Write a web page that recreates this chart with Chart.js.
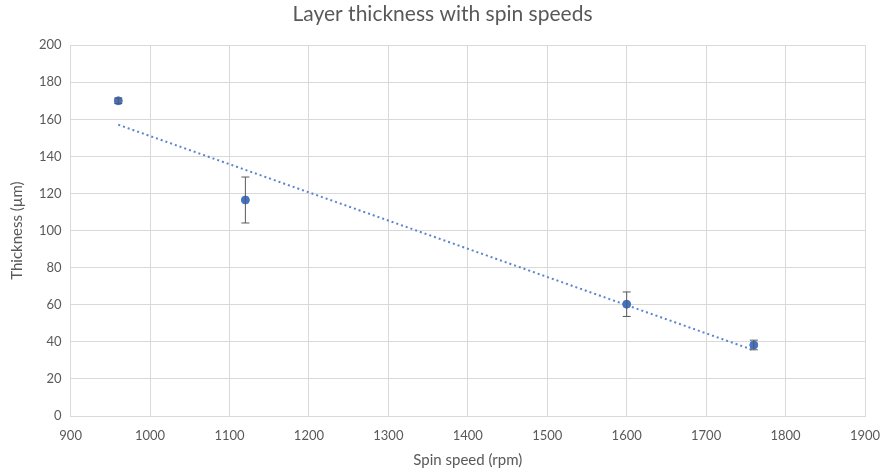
<!DOCTYPE html>
<html>
<head>
<meta charset="utf-8">
<script src="https://cdn.jsdelivr.net/npm/chart.js@4"></script>
<style>
  html, body { margin: 0; padding: 0; background: #fff; }
  #wrap { width: 881px; height: 472px; }
</style>
</head>
<body>
<div id="wrap"><canvas id="chart"></canvas></div>
<script>
// ===== Data =====
const spinSpeeds = [960, 1120, 1600, 1760];
const thickness = [170, 116.5, 60.3, 38.3];
const thicknessErr = [1.5, 12.4, 6.6, 2.6];
const xTicks = [900, 1000, 1100, 1200, 1300, 1400, 1500, 1600, 1700, 1800, 1900];
const yTicks = [0, 20, 40, 60, 80, 100, 120, 140, 160, 180, 200];

const BLUE = "#4472C4";
const TEXT = "#595959";
const FONT = "Lato, 'Open Sans', sans-serif";

// linear trendline (least squares, like Excel)
function linearFit(xs, ys) {
  const n = xs.length;
  const mx = xs.reduce((a, b) => a + b, 0) / n;
  const my = ys.reduce((a, b) => a + b, 0) / n;
  let sxy = 0, sxx = 0;
  xs.forEach((x, i) => { sxy += (x - mx) * (ys[i] - my); sxx += (x - mx) * (x - mx); });
  const slope = sxy / sxx;
  return x => my + slope * (x - mx);
}
const fit = linearFit(spinSpeeds, thickness);
const trendX = [spinSpeeds[0], spinSpeeds[spinSpeeds.length - 1]];

// ===== Error bar plugin =====
const errorBars = {
  id: "errorBars",
  afterDatasetsDraw(chart) {
    const { ctx, scales: { x, y } } = chart;
    ctx.save();
    ctx.strokeStyle = "#595959";
    ctx.lineWidth = 1;
    spinSpeeds.forEach((sx, i) => {
      const px = x.getPixelForValue(sx);
      const top = y.getPixelForValue(thickness[i] + thicknessErr[i]);
      const bot = y.getPixelForValue(thickness[i] - thicknessErr[i]);
      ctx.beginPath();
      ctx.moveTo(px, top); ctx.lineTo(px, bot);
      ctx.moveTo(px - 4, top); ctx.lineTo(px + 4, top);
      ctx.moveTo(px - 4, bot); ctx.lineTo(px + 4, bot);
      ctx.stroke();
    });
    ctx.restore();
  }
};

new Chart(document.getElementById("chart"), {
  type: "scatter",
  data: {
    datasets: [
      {
        label: "Trendline",
        data: trendX.map(v => ({ x: v, y: fit(v) })),
        showLine: true,
        borderColor: "#5b84cc",
        borderWidth: 2,
        borderDash: [2, 3],
        pointRadius: 0,
        order: 2
      },
      {
        label: "Thickness",
        data: spinSpeeds.map((v, i) => ({ x: v, y: thickness[i] })),
        backgroundColor: BLUE,
        borderColor: BLUE,
        pointRadius: 4,
        order: 1
      }
    ]
  },
  options: {
    responsive: true,
    maintainAspectRatio: false,
    animation: false,
    layout: { padding: { left: 4, right: 0, top: 2, bottom: 0 } },
    plugins: {
      legend: { display: false },
      tooltip: { enabled: false },
      title: {
        display: true,
        text: "Layer thickness with spin speeds",
        color: TEXT,
        font: { family: FONT, size: 21, weight: "normal" },
        padding: { top: 0, bottom: 18 }
      }
    },
    scales: {
      x: {
        type: "linear",
        min: 900, max: 1900,
        afterBuildTicks: s => { s.ticks = xTicks.map(v => ({ value: v })); },
        afterFit: s => { s.paddingRight = 16; s.height = 56; },
        ticks: { color: TEXT, font: { family: FONT, size: 13, lineHeight: 1 }, maxRotation: 0, padding: 13, callback: v => String(v) },
        grid: { color: "#d9d9d9", drawTicks: false },
        border: { color: "#d9d9d9" },
        title: { display: true, text: "Spin speed (rpm)", color: TEXT, font: { family: FONT, size: 15, lineHeight: 1 }, padding: { top: 0, bottom: 4 } }
      },
      y: {
        min: 0, max: 200,
        afterBuildTicks: s => { s.ticks = yTicks.map(v => ({ value: v })); },
        ticks: { color: TEXT, font: { family: FONT, size: 13 }, padding: 9, callback: v => String(v) },
        grid: { color: "#d9d9d9", drawTicks: false },
        border: { color: "#d9d9d9" },
        title: { display: true, text: "Thickness (µm)", color: TEXT, font: { family: FONT, size: 15 }, padding: { bottom: 4 } }
      }
    }
  },
  plugins: [errorBars]
});
</script>
</body>
</html>
